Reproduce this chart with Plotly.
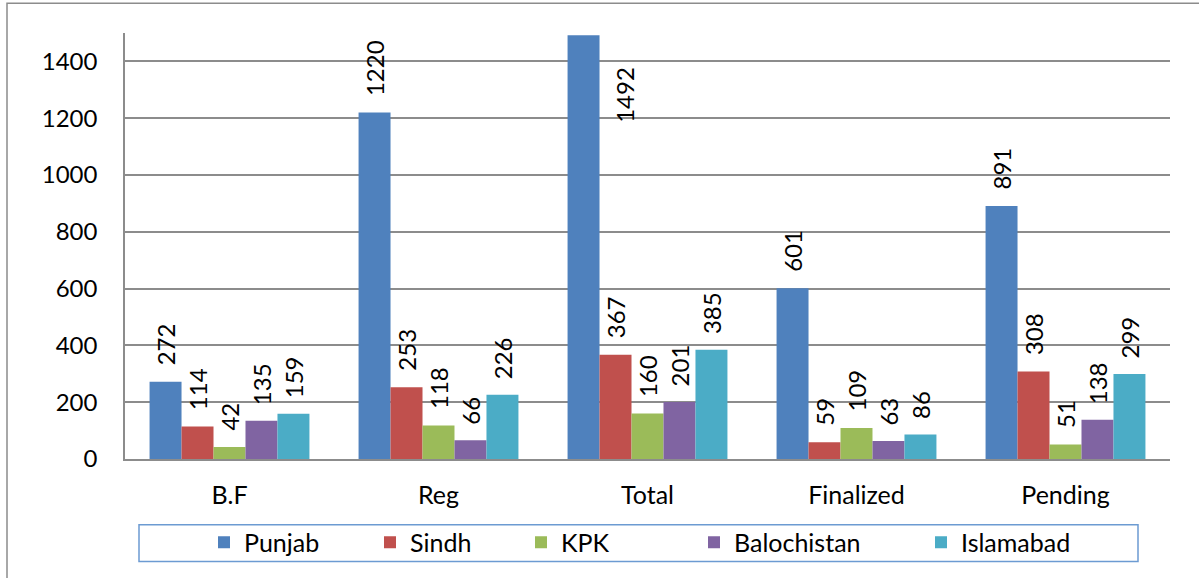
import plotly.graph_objects as go

categories = ["B.F", "Reg", "Total", "Finalized", "Pending"]
series_names = ["Punjab", "Sindh", "KPK", "Balochistan", "Islamabad"]
punjab = [272, 1220, 1492, 601, 891]
sindh = [114, 253, 367, 59, 308]
kpk = [42, 118, 160, 109, 51]
balochistan = [135, 66, 201, 63, 138]
islamabad = [159, 226, 385, 86, 299]
colors = ["#4F81BD", "#C0504D", "#9BBB59", "#8064A2", "#4BACC6"]
y_ticks = [0, 200, 400, 600, 800, 1000, 1200, 1400]

W, H = 1199, 578
ML, MR, MT, MB = 125, 29, 33, 117
PW, PH = W - ML - MR, H - MT - MB
YMAX = 1500

def px_x(px):
    return (px - ML) / PW

def px_y(py):
    return (H - MB - py) / PH

FONT = "Lato, 'Open Sans', sans-serif"
NUM_SIZE = 24
TXT_SIZE = 25
bar_w = 0.153
group_w = bar_w * 5

all_series = [punjab, sindh, kpk, balochistan, islamabad]
fig = go.Figure()
legend_px = [218, 384, 535, 708, 935]
for i, (name, vals, col) in enumerate(zip(series_names, all_series, colors)):
    off = -group_w / 2 + i * bar_w
    lg = "legend" if i == 0 else f"legend{i+1}"
    fig.add_trace(go.Bar(
        name=name, x=categories, y=vals, marker_color=col,
        marker_line_width=0, width=bar_w, offset=off, legend=lg,
    ))
    for j, v in enumerate(vals):
        cx = j + off + bar_w / 2
        if v * PH / YMAX + 70 > PH:
            fig.add_annotation(x=cx, y=v, xref="x", yref="y", text=str(v),
                               textangle=-90, showarrow=False, xanchor="center",
                               yanchor="top", xshift=41, yshift=-30,
                               font=dict(family=FONT, size=NUM_SIZE, color="black"))
        else:
            fig.add_annotation(x=cx, y=v, xref="x", yref="y", text=str(v),
                               textangle=-90, showarrow=False, xanchor="center",
                               yanchor="bottom", yshift=14,
                               font=dict(family=FONT, size=NUM_SIZE, color="black"))

layout_legends = {}
for i, pxl in enumerate(legend_px):
    key = "legend" if i == 0 else f"legend{i+1}"
    layout_legends[key] = dict(
        orientation="h", x=px_x(pxl - 14), xanchor="left",
        y=px_y(545), yanchor="middle", bgcolor="rgba(0,0,0,0)",
        borderwidth=0, font=dict(family=FONT, size=TXT_SIZE, color="black"),
    )

fig.update_layout(
    width=W, height=H, autosize=False,
    margin=dict(l=ML, r=MR, t=MT, b=MB),
    paper_bgcolor="white", plot_bgcolor="white",
    barmode="overlay", showlegend=True,
    font=dict(family=FONT, size=NUM_SIZE, color="black"),
    xaxis=dict(range=[-0.5, 4.5], showline=True, linecolor="#8C8C8C", linewidth=1.5,
               ticks="", showgrid=False, tickfont=dict(size=TXT_SIZE, color="black"),
               ticklabelstandoff=13),
    yaxis=dict(range=[0, YMAX], tickvals=y_ticks, showline=True, linecolor="#8C8C8C",
               linewidth=1.5, gridcolor="#8C8C8C", gridwidth=1.5, zeroline=False,
               ticks="", tickfont=dict(size=NUM_SIZE, color="black"), ticklabelstandoff=21),
    shapes=[
        dict(type="rect", xref="paper", yref="paper", x0=px_x(7), x1=px_x(1215),
             y0=px_y(600), y1=px_y(3), line=dict(color="#8C8C8C", width=1.5),
             fillcolor="rgba(0,0,0,0)", layer="below"),
        dict(type="rect", xref="paper", yref="paper", x0=px_x(139), x1=px_x(1138),
             y0=px_y(564), y1=px_y(527), line=dict(color="#6C9BD2", width=1.5),
             fillcolor="rgba(0,0,0,0)", layer="below"),
    ],
    **layout_legends,
)

fig.write_html("out.html", config={"displayModeBar": False},
               post_script="document.body.style.margin='0';")
